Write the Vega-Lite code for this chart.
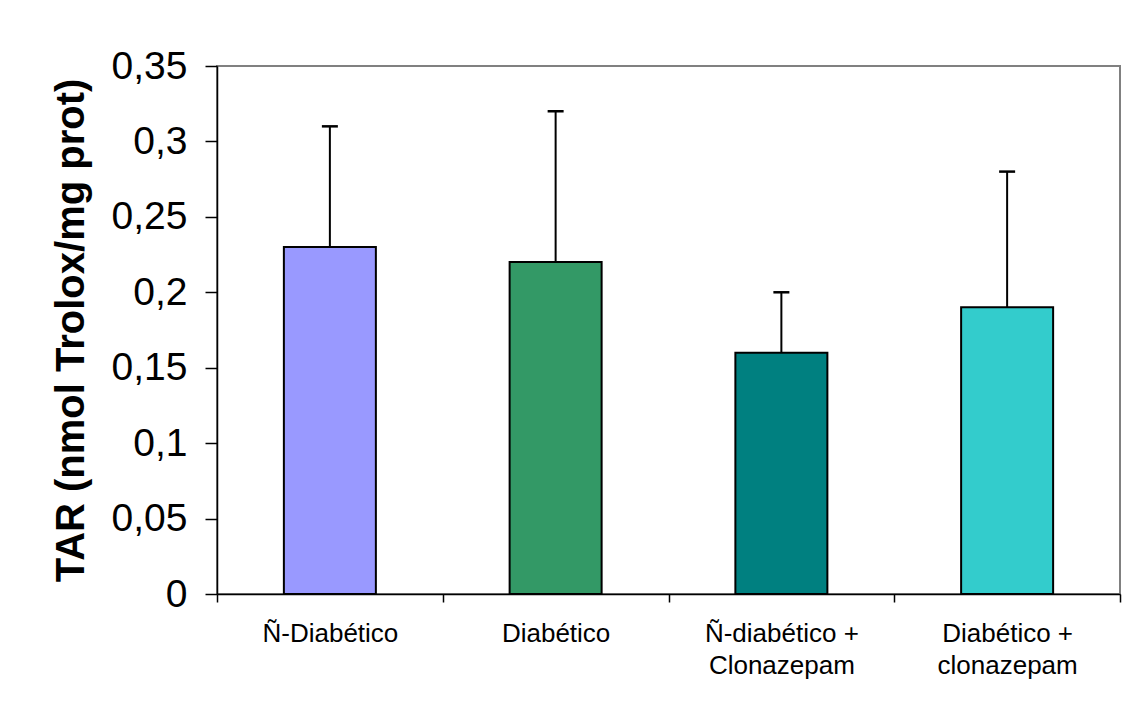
{
  "$schema": "https://vega.github.io/schema/vega-lite/v6.json",
  "autosize": {"type": "none"},
  "padding": {"left": 217, "top": 66, "right": 8, "bottom": 111},
  "width": 903,
  "height": 528,
  "background": "white",
  "data": {
    "values": [
      {"grupo": "Ñ-Diabético", "tar": 0.23, "sup": 0.31},
      {"grupo": "Diabético", "tar": 0.22, "sup": 0.32},
      {"grupo": "Ñ-diabético + Clonazepam", "tar": 0.16, "sup": 0.20},
      {"grupo": "Diabético + clonazepam", "tar": 0.19, "sup": 0.28}
    ]
  },
  "encoding": {
    "x": {
      "field": "grupo",
      "type": "nominal",
      "sort": null,
      "scale": {"paddingInner": 0, "paddingOuter": 0},
      "axis": {
        "title": null,
        "labelAngle": 0,
        "tickBand": "extent",
        "tickSize": 8,
        "tickColor": "black",
        "tickWidth": 1.5,
        "domainColor": "black",
        "domainWidth": 1.5,
        "labelPadding": 18,
        "labelFont": "Liberation Sans",
        "labelFontSize": 26,
        "labelColor": "black",
        "labelLineHeight": 32,
        "labelExpr": "indexof(datum.label, ' + ') > 0 ? [slice(datum.label, 0, indexof(datum.label, ' + ') + 2), slice(datum.label, indexof(datum.label, ' + ') + 3)] : datum.label"
      }
    }
  },
  "layer": [
    {
      "mark": {"type": "bar", "width": 92, "stroke": "black", "strokeWidth": 2},
      "encoding": {
        "y": {
          "field": "tar",
          "type": "quantitative",
          "scale": {"domain": [0, 0.35], "nice": false},
          "axis": {
            "title": "TAR (nmol Trolox/mg prot)",
            "values": [0, 0.05, 0.1, 0.15, 0.2, 0.25, 0.3, 0.35],
            "grid": false,
            "tickSize": 12,
            "tickColor": "black",
            "tickWidth": 1.5,
            "domainColor": "black",
            "domainWidth": 1.5,
            "labelPadding": 18,
            "labelFont": "Liberation Sans",
            "labelFontSize": 39,
            "labelColor": "black",
            "labelExpr": "replace(format(datum.value, '.2~f'), '.', ',')",
            "titleFont": "Liberation Sans",
            "titleFontSize": 40,
            "titleFontWeight": "bold",
            "titleColor": "black",
            "titlePadding": 20
          }
        },
        "color": {
          "field": "grupo",
          "type": "nominal",
          "sort": null,
          "legend": null,
          "scale": {
            "domain": ["Ñ-Diabético", "Diabético", "Ñ-diabético + Clonazepam", "Diabético + clonazepam"],
            "range": ["#9999FF", "#339966", "#008080", "#33CCCC"]
          }
        }
      }
    },
    {
      "mark": {"type": "rule", "color": "black", "strokeWidth": 2},
      "encoding": {
        "y": {"field": "tar", "type": "quantitative"},
        "y2": {"field": "sup"}
      }
    },
    {
      "mark": {"type": "tick", "color": "black", "size": 16, "thickness": 2.5, "opacity": 1},
      "encoding": {
        "y": {"field": "sup", "type": "quantitative"}
      }
    }
  ],
  "config": {
    "view": {"stroke": "#808080", "strokeWidth": 2},
    "font": "Liberation Sans"
  }
}
